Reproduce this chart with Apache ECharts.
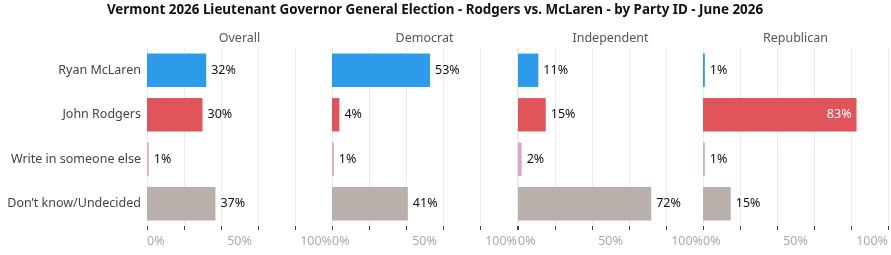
<!DOCTYPE html>
<html>
<head>
<meta charset="utf-8">
<script src="https://cdn.jsdelivr.net/npm/echarts@6/dist/echarts.min.js"></script>
<style>
  html, body { margin: 0; padding: 0; background: #fff; }
  #chart { width: 891px; height: 255px; }
</style>
</head>
<body>
<div id="chart"></div>
<script>
// 各党派分组
const groups = ['Overall', 'Democrat', 'Independent', 'Republican']
const choices = ['Ryan McLaren', 'John Rodgers', 'Write in someone else', 'Don\u2019t know/Undecided']
const colors = ['#2e9bea', '#e0555a', '#d7a9cd', '#b9b0ab']

const overall = [32, 30, 1, 37]
const democrat = [53, 4, 1, 41]
const independent = [11, 15, 2, 72]
const republican = [1, 83, 1, 15]
const values = [overall, democrat, independent, republican]

const font = 'Noto Sans'
const lefts = [147, 332, 518, 703]
const panelW = 185

const grids = [], xAxes = [], yAxes = [], series = [], titles = []
titles.push({
	text: 'Vermont 2026 Lieutenant Governor General Election - Rodgers vs. McLaren - by Party ID - June 2026',
	left: 435,
	textAlign: 'center',
	top: 4,
	padding: 0,
	textStyle: { fontFamily: font, fontSize: 13.4, fontWeight: 'bold', color: '#111' }
})

groups.forEach((g, i) => {
	grids.push({ left: lefts[i], width: panelW, top: 48, height: 178 })
	titles.push({
		text: g,
		left: lefts[i] + panelW / 2,
		top: 32,
		padding: 0,
		textAlign: 'center',
		textStyle: { fontFamily: font, fontSize: 12.5, fontWeight: 'normal', color: '#555' }
	})
	xAxes.push({
		type: 'value',
		gridIndex: i,
		min: 0,
		max: 100,
		interval: 20,
		axisLine: { show: false },
		axisTick: { show: true, length: 4, lineStyle: { color: '#444' } },
		splitLine: { show: true, lineStyle: { color: '#ececec' } },
		axisLabel: {
			customValues: [0, 50, 100],
			formatter: v => v + '%',
			fontFamily: font,
			fontSize: 12.5,
			color: '#aaa',
			margin: 9,
			alignMinLabel: 'left',
			alignMaxLabel: 'right'
		}
	})
	yAxes.push({
		type: 'category',
		gridIndex: i,
		data: choices,
		inverse: true,
		axisLine: { show: false },
		axisTick: { show: false },
		axisLabel: {
			show: i === 0,
			fontFamily: font,
			fontSize: 12.5,
			color: '#444',
			margin: 6
		}
	})
	series.push({
		type: 'bar',
		xAxisIndex: i,
		yAxisIndex: i,
		barCategoryGap: '25%',
		data: values[i].map((v, j) => {
			const item = { value: v, itemStyle: { color: colors[j] } }
			if (v > 75) {
				item.label = { position: 'insideRight', color: '#fff', distance: 5 }
			}
			return item
		}),
		label: {
			show: true,
			position: 'right',
			distance: 5,
			formatter: p => p.value + '%',
			fontFamily: font,
			fontSize: 12.5,
			color: '#111'
		}
	})
})

echarts.init(document.getElementById('chart')).setOption({
	animation: false,
	title: titles,
	grid: grids,
	xAxis: xAxes,
	yAxis: yAxes,
	series: series
})
</script>
</body>
</html>
